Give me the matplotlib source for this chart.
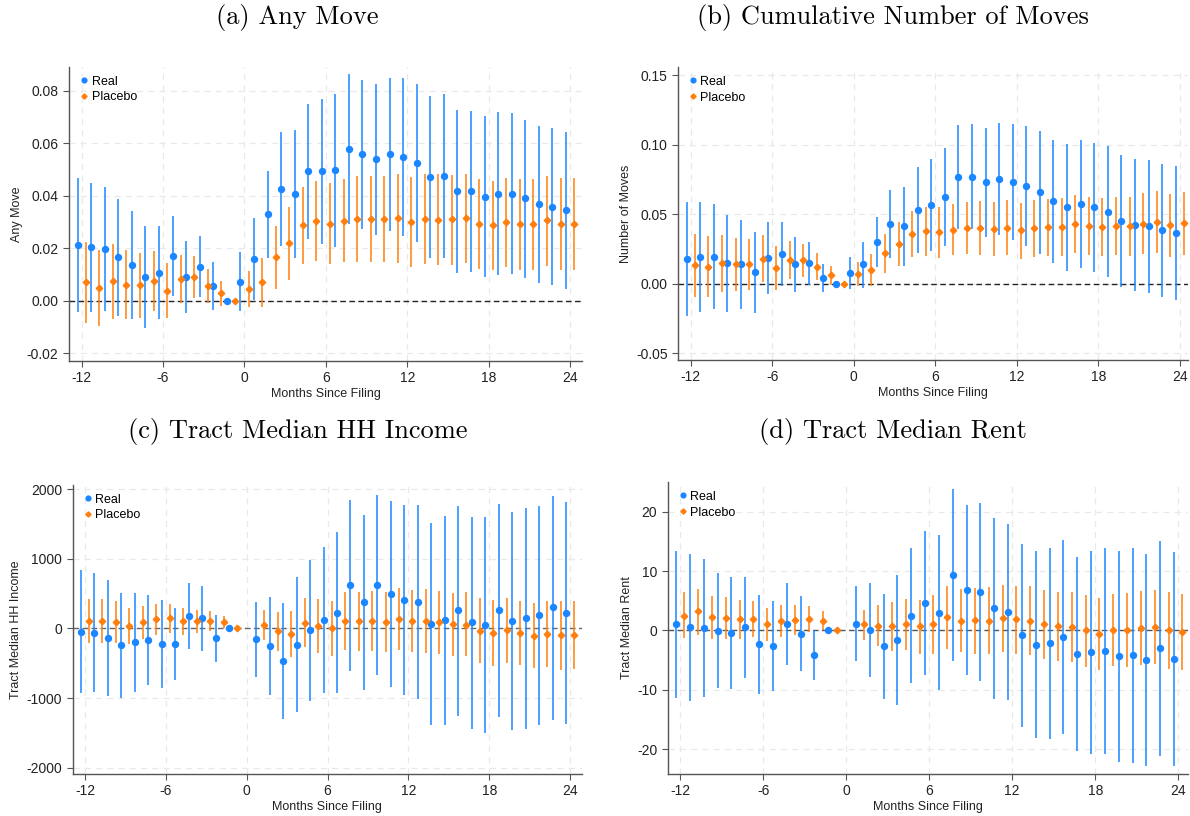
import numpy as np
import matplotlib
matplotlib.use("Agg")
import matplotlib.pyplot as plt

plt.rcParams["font.family"] = ["Liberation Sans", "DejaVu Sans"]
plt.rcParams["axes.unicode_minus"] = False

BLUE = "#1a86ff"
ORANGE = "#ff7f0e"
NAN = np.nan

months = list(range(-12, 25))

# ---------------------------------------------------------
# (a) Any Move
# ---------------------------------------------------------
a_real = [0.0214, 0.0204, 0.0197, 0.0166, 0.0136, 0.0092, 0.0106, 0.0169, 0.0090, 0.0130, 0.0057, 0.0,
          0.0073, 0.0159, 0.0329, 0.0425, 0.0406, 0.0493, 0.0493, 0.0497, 0.0578, 0.0558, 0.0539, 0.0558,
          0.0549, 0.0526, 0.0473, 0.0475, 0.0418, 0.0418, 0.0397, 0.0408, 0.0408, 0.0390, 0.0367, 0.0358, 0.0344]
a_real_hi = [0.0466, 0.0450, 0.0432, 0.0389, 0.0341, 0.0285, 0.0283, 0.0321, 0.0228, 0.0245, 0.0148, NAN,
             0.0185, 0.0317, 0.0493, 0.0643, 0.0650, 0.0749, 0.0769, 0.0786, 0.0862, 0.0841, 0.0825, 0.0850,
             0.0848, 0.0825, 0.0781, 0.0787, 0.0726, 0.0722, 0.0703, 0.0717, 0.0713, 0.0690, 0.0665, 0.0656, 0.0643]
a_real_lo = [-0.0041, -0.0041, -0.0038, -0.0056, -0.0069, -0.0102, -0.0069, 0.0017, -0.0045, 0.0014, -0.0033, NAN,
             -0.0040, 0.0003, 0.0164, 0.0208, 0.0162, 0.0236, 0.0215, 0.0206, 0.0292, 0.0274, 0.0250, 0.0264,
             0.0247, 0.0225, 0.0163, 0.0164, 0.0107, 0.0111, 0.0092, 0.0097, 0.0102, 0.0088, 0.0068, 0.0059, 0.0045]
a_plac = [0.0070, 0.0050, 0.0074, 0.0062, 0.0060, 0.0075, 0.0038, 0.0083, 0.0089, 0.0055, 0.0028, 0.0,
          0.0046, 0.0070, 0.0166, 0.0219, 0.0288, 0.0303, 0.0293, 0.0304, 0.0312, 0.0313, 0.0310, 0.0315,
          0.0299, 0.0313, 0.0308, 0.0310, 0.0317, 0.0293, 0.0287, 0.0299, 0.0292, 0.0292, 0.0306, 0.0292, 0.0292]
a_plac_hi = [0.0223, 0.0195, 0.0215, 0.0195, 0.0183, 0.0191, 0.0143, 0.0173, 0.0169, 0.0121, 0.0074, NAN,
             0.0115, 0.0163, 0.0284, 0.0357, 0.0433, 0.0455, 0.0448, 0.0462, 0.0474, 0.0476, 0.0476, 0.0482,
             0.0470, 0.0484, 0.0482, 0.0480, 0.0484, 0.0462, 0.0456, 0.0469, 0.0462, 0.0462, 0.0476, 0.0466, 0.0466]
a_plac_lo = [-0.0084, -0.0096, -0.0068, -0.0068, -0.0064, -0.0038, -0.0066, -0.0008, 0.0009, -0.0010, -0.0019, NAN,
             -0.0022, -0.0024, 0.0046, 0.0079, 0.0141, 0.0150, 0.0139, 0.0146, 0.0149, 0.0149, 0.0149, 0.0145,
             0.0127, 0.0140, 0.0135, 0.0138, 0.0145, 0.0122, 0.0116, 0.0127, 0.0118, 0.0118, 0.0132, 0.0118, 0.0116]

# ---------------------------------------------------------
# (b) Cumulative Number of Moves
# ---------------------------------------------------------
b_real = [0.0180, 0.0192, 0.0194, 0.0149, 0.0139, 0.0081, 0.0182, 0.0216, 0.0139, 0.0149, 0.0038, 0.0,
          0.0079, 0.0139, 0.0297, 0.0426, 0.0412, 0.0529, 0.0565, 0.0623, 0.0769, 0.0769, 0.0728, 0.0750,
          0.0728, 0.0702, 0.0656, 0.0592, 0.0549, 0.0575, 0.0549, 0.0517, 0.0453, 0.0424, 0.0412, 0.0386, 0.0364]
b_real_hi = [0.0587, 0.0589, 0.0570, 0.0494, 0.0460, 0.0374, 0.0441, 0.0446, 0.0338, 0.0302, 0.0139, NAN,
             0.0189, 0.0302, 0.0477, 0.0671, 0.0692, 0.0836, 0.0894, 0.0973, 0.1143, 0.1145, 0.1119, 0.1152,
             0.1145, 0.1131, 0.1095, 0.1035, 0.1001, 0.1033, 0.1009, 0.0987, 0.0922, 0.0894, 0.0886, 0.0858, 0.0843]
b_real_lo = [-0.0232, -0.0204, -0.0182, -0.0201, -0.0184, -0.0211, -0.0077, -0.0017, -0.0060, -0.0007, -0.0062, NAN,
             -0.0036, -0.0029, 0.0117, 0.0184, 0.0129, 0.0220, 0.0235, 0.0271, 0.0395, 0.0390, 0.0333, 0.0347,
             0.0314, 0.0271, 0.0216, 0.0146, 0.0093, 0.0115, 0.0081, 0.0046, -0.0022, -0.0050, -0.0067, -0.0096, -0.0117]
b_plac = [0.0132, 0.0122, 0.0149, 0.0139, 0.0139, 0.0180, 0.0110, 0.0170, 0.0168, 0.0120, 0.0060, 0.0,
          0.0069, 0.0098, 0.0220, 0.0288, 0.0359, 0.0376, 0.0369, 0.0388, 0.0402, 0.0400, 0.0395, 0.0402,
          0.0383, 0.0402, 0.0407, 0.0407, 0.0429, 0.0417, 0.0410, 0.0414, 0.0414, 0.0429, 0.0446, 0.0422, 0.0436]
b_plac_hi = [0.0359, 0.0340, 0.0352, 0.0331, 0.0319, 0.0347, 0.0268, 0.0307, 0.0287, 0.0218, 0.0127, NAN,
             0.0153, 0.0211, 0.0359, 0.0441, 0.0522, 0.0549, 0.0549, 0.0575, 0.0587, 0.0592, 0.0589, 0.0599,
             0.0582, 0.0604, 0.0611, 0.0613, 0.0635, 0.0621, 0.0618, 0.0625, 0.0625, 0.0649, 0.0666, 0.0647, 0.0661]
b_plac_lo = [-0.0096, -0.0096, -0.0058, -0.0050, -0.0043, 0.0010, -0.0043, 0.0034, 0.0048, 0.0024, -0.0007, NAN,
             -0.0019, -0.0014, 0.0079, 0.0125, 0.0192, 0.0199, 0.0187, 0.0204, 0.0211, 0.0206, 0.0196, 0.0204,
             0.0177, 0.0194, 0.0196, 0.0196, 0.0223, 0.0208, 0.0201, 0.0204, 0.0199, 0.0213, 0.0223, 0.0194, 0.0206]

# ---------------------------------------------------------
# (c) Tract Median HH Income  (month 0 not estimated)
# ---------------------------------------------------------
c_real = [-48, -62, -139, -235, -201, -163, -220, -225, 177, 148, -139, 0,
          NAN, -158, -249, -469, -235, -29, 125, 225, 627, 374, 627, 498,
          412, 378, 62, 125, 259, 86, 53, 268, 105, 144, 192, 302, 225]
c_real_hi = [838, 800, 699, 513, 513, 484, 412, 287, 651, 613, 196, NAN,
             NAN, 374, 450, 359, 733, 982, 1174, 1380, 1839, 1629, 1921, 1825,
             1777, 1768, 1509, 1614, 1758, 1605, 1600, 1782, 1672, 1724, 1763, 1906, 1820]
c_real_lo = [-934, -920, -977, -992, -920, -819, -862, -747, -302, -321, -489, NAN,
             NAN, -695, -963, -1298, -1207, -1049, -934, -934, -608, -891, -671, -838,
             -963, -1011, -1384, -1380, -1255, -1447, -1504, -1265, -1461, -1442, -1384, -1312, -1375]
c_plac = [105, 105, 91, 38, 86, 129, 148, 105, 105, 110, 86, 0,
          NAN, 53, -43, -81, 77, 38, 0, 105, 105, 105, 86, 134,
          105, 105, 86, 57, 53, -34, -67, -19, -67, -105, -77, -96, -91]
c_plac_hi = [426, 426, 398, 297, 326, 350, 354, 297, 268, 254, 172, NAN,
             NAN, 268, 240, 249, 431, 417, 388, 522, 522, 537, 517, 575,
             556, 565, 541, 513, 522, 431, 407, 441, 398, 359, 393, 398, 398]
c_plac_lo = [-216, -216, -211, -225, -153, -101, -62, -96, -67, -34, 0, NAN,
             NAN, -163, -326, -407, -273, -350, -398, -312, -321, -321, -345, -307,
             -345, -350, -374, -402, -402, -503, -541, -498, -532, -575, -556, -594, -585]

# ---------------------------------------------------------
# (d) Tract Median Rent  (month 0 not estimated)
# ---------------------------------------------------------
d_real = [1.0, 0.56, 0.34, -0.11, -0.45, 0.5, -2.3, -2.6, 1.1, -0.56, -4.2, 0.0,
          NAN, 1.1, 0.0, -2.7, -1.6, 2.5, 4.6, 3.0, 9.4, 6.8, 6.5, 3.7,
          3.1, -0.8, -2.5, -2.2, -1.1, -4.0, -3.7, -3.4, -4.3, -4.2, -5.0, -3.0, -4.8]
d_real_hi = [13.4, 12.9, 12.1, 9.6, 9.0, 9.0, 6.0, 5.0, 8.0, 5.8, 0.0, NAN,
             NAN, 7.5, 8.0, 6.2, 9.4, 13.9, 16.7, 16.0, 23.9, 21.2, 21.4, 19.0,
             18.0, 14.6, 13.3, 13.9, 15.2, 12.4, 13.4, 13.9, 13.4, 13.9, 12.9, 15.1, 13.2]
d_real_lo = [-11.4, -11.9, -11.3, -9.7, -9.9, -8.0, -10.7, -10.2, -5.8, -6.9, -8.3, NAN,
             NAN, -5.2, -7.9, -11.6, -12.5, -8.9, -7.5, -10.0, -5.1, -7.6, -8.5, -11.6,
             -11.8, -16.2, -18.2, -18.3, -17.5, -20.4, -20.8, -20.8, -22.1, -22.4, -22.9, -21.2, -22.9]
d_plac = [2.5, 3.2, 2.2, 2.1, 1.9, 1.9, 1.0, 1.6, 1.7, 1.9, 1.6, 0.0,
          NAN, 1.0, 0.7, 0.7, 1.1, 0.7, 1.1, 2.2, 1.6, 1.7, 1.6, 2.1,
          1.9, 1.6, 1.0, 0.7, 0.6, 0.06, -0.56, 0.1, 0.06, 0.4, 0.6, 0.06, -0.2]
d_plac_hi = [6.4, 7.0, 5.8, 5.7, 5.2, 4.9, 3.7, 4.3, 4.2, 4.1, 3.2, NAN,
             NAN, 3.5, 4.2, 4.8, 5.3, 5.2, 6.0, 7.5, 7.0, 7.2, 7.3, 7.7,
             7.5, 7.4, 6.8, 6.5, 6.5, 6.0, 5.5, 6.2, 6.3, 6.6, 6.8, 6.5, 6.2]
d_plac_lo = [-1.3, -0.7, -1.5, -1.4, -1.5, -1.1, -1.8, -1.1, -0.7, -0.3, 0.0, NAN,
             NAN, -1.6, -2.7, -3.4, -3.3, -3.9, -3.9, -3.1, -3.7, -3.9, -4.0, -3.7,
             -3.9, -4.2, -4.9, -5.2, -5.4, -6.1, -6.7, -6.0, -6.1, -5.8, -5.6, -6.5, -6.6]

a_yticks = [-0.02, 0.0, 0.02, 0.04, 0.06, 0.08]
a_ylabels = ["-0.02", "0.00", "0.02", "0.04", "0.06", "0.08"]
b_yticks = [-0.05, 0.0, 0.05, 0.10, 0.15]
b_ylabels = ["-0.05", "0.00", "0.05", "0.10", "0.15"]
c_yticks = [-2000, -1000, 0, 1000, 2000]
c_ylabels = ["-2000", "-1000", "0", "1000", "2000"]
d_yticks = [-20, -10, 0, 10, 20]
d_ylabels = ["-20", "-10", "0", "10", "20"]
xticks = [-12, -6, 0, 6, 12, 18, 24]


def draw_panel(ax, real, real_lo, real_hi, plac, plac_lo, plac_hi,
               ylabel, yticks, ylabels, ylim, xlim, zero_color):
    x = np.array(months, dtype=float)
    for xs, est, lo, hi, color, marker, ms, lab in [
        (x - 0.3, real, real_lo, real_hi, BLUE, "o", 4.3, "Real"),
        (x + 0.3, plac, plac_lo, plac_hi, ORANGE, "D", 3.3, "Placebo"),
    ]:
        est = np.array(est, dtype=float)
        lo = np.array(lo, dtype=float)
        hi = np.array(hi, dtype=float)
        ax.vlines(xs, lo, hi, color=color, lw=1.1, zorder=3)
        ax.plot(xs, est, ls="none", marker=marker, ms=ms, color=color,
                mec=color, zorder=4, label=lab)

    ax.axhline(0, color=zero_color, ls=(0, (4, 2.5)), lw=1.0, zorder=2)
    ax.set_xlim(*xlim)
    ax.set_ylim(*ylim)
    ax.set_xticks(xticks)
    ax.set_xticklabels([str(t) for t in xticks])
    ax.set_yticks(yticks)
    ax.set_yticklabels(ylabels)
    ax.grid(True, color="#e9e9e9", ls=(0, (5, 4)), lw=0.9, zorder=0)
    ax.set_axisbelow(True)
    for s in ["top", "right"]:
        ax.spines[s].set_visible(False)
    for s in ["left", "bottom"]:
        ax.spines[s].set_color("#555555")
        ax.spines[s].set_linewidth(1.0)
    ax.tick_params(direction="out", length=4, width=0.8, color="#555555",
                   labelsize=10, labelcolor="#222222")
    ax.set_xlabel("Months Since Filing", fontsize=9, color="#222222", labelpad=2)
    ax.set_ylabel(ylabel, fontsize=9, color="#222222", labelpad=3)
    ax.legend(loc="upper left", frameon=False, fontsize=9, handletextpad=0.1,
              handlelength=1.0, borderaxespad=0.3, labelspacing=0.3,
              markerscale=0.8)


fig = plt.figure(figsize=(11.9, 8.16), dpi=100)

ax_a = fig.add_axes([0.058, 0.5576, 0.4311, 0.3603])
ax_b = fig.add_axes([0.5697, 0.5588, 0.4286, 0.3590])
ax_c = fig.add_axes([0.0611, 0.0515, 0.4280, 0.3542])
ax_d = fig.add_axes([0.5611, 0.0515, 0.4372, 0.3578])

draw_panel(ax_a, a_real, a_real_lo, a_real_hi, a_plac, a_plac_lo, a_plac_hi,
           "Any Move", a_yticks, a_ylabels, (-0.0229, 0.089), (-12.93, 24.88), "#222222")
draw_panel(ax_b, b_real, b_real_lo, b_real_hi, b_plac, b_plac_lo, b_plac_hi,
           "Number of Moves", b_yticks, b_ylabels, (-0.0548, 0.1557), (-12.94, 24.6), "#222222")
draw_panel(ax_c, c_real, c_real_lo, c_real_hi, c_plac, c_plac_lo, c_plac_hi,
           "Tract Median HH Income", c_yticks, c_ylabels, (-2090, 2060), (-12.91, 24.88), "#666666")
draw_panel(ax_d, d_real, d_real_lo, d_real_hi, d_plac, d_plac_lo, d_plac_hi,
           "Tract Median Rent", d_yticks, d_ylabels, (-24.2, 25.0), (-12.9, 24.7), "#555555")

title_kw = dict(fontsize=19, family="cmr10", ha="center", va="center")
fig.text(0.25, 0.978, "(a) Any Move", **title_kw)
fig.text(0.75, 0.978, "(b) Cumulative Number of Moves", **title_kw)
fig.text(0.25, 0.471, "(c) Tract Median HH Income", **title_kw)
fig.text(0.75, 0.471, "(d) Tract Median Rent", **title_kw)

fig.savefig("out.png", dpi=100)
